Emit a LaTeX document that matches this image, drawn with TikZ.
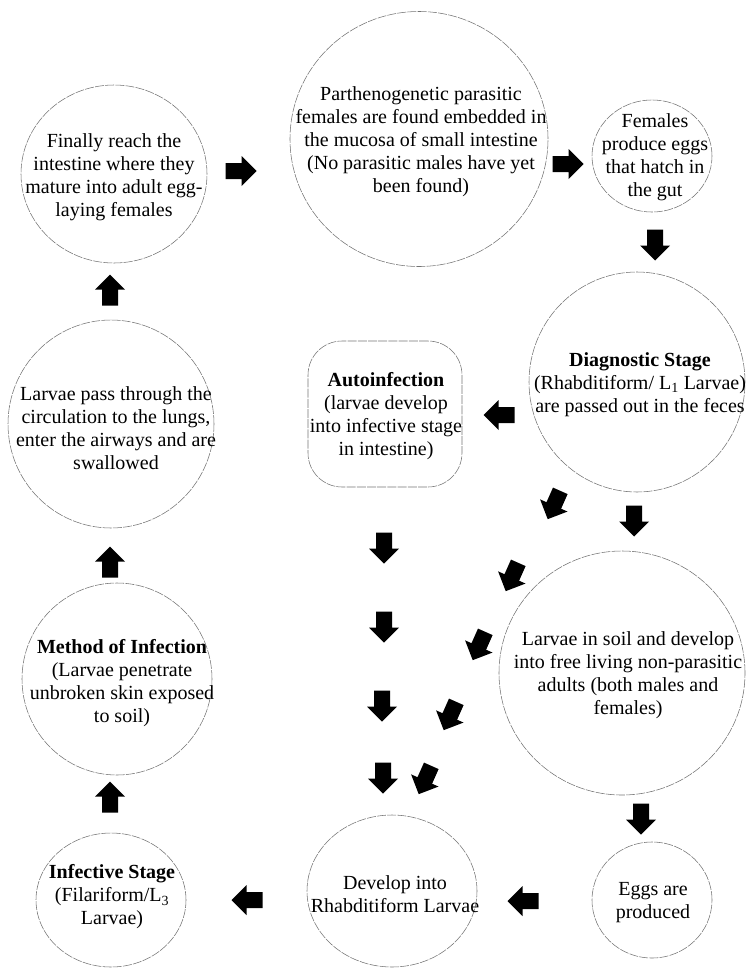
\documentclass[tikz,border=0pt]{standalone}
\usepackage{fontspec}
\setmainfont{Liberation Serif}
\usetikzlibrary{shapes.geometric}
\begin{document}
\begin{tikzpicture}[x=1pt,y=-1pt,
 oval/.style={ellipse, draw=black!55, line width=0.55pt, dash pattern=on 9pt off 1.2pt, inner sep=0pt},
 roundbox/.style={rectangle, rounded corners=34pt, draw=black!55, line width=0.55pt, dash pattern=on 9pt off 1.2pt, inner sep=0pt},
 txt/.style={align=center, font=\fontsize{20}{23}\selectfont, inner sep=0pt},
 barrow/.pic={\fill[black] (-15.5,-8) -- (0.5,-8) -- (0.5,-15) -- (15.5,0) -- (0.5,15) -- (0.5,8) -- (-15.5,8) -- cycle;}
]
\useasboundingbox (0,0) rectangle (745,969);

% outlines
\node[oval, minimum width=186pt, minimum height=178pt] (finally) at (114,174) {};
\node[oval, minimum width=258pt, minimum height=255pt] (parth) at (419,139) {};
\node[oval, minimum width=120pt, minimum height=112pt] (females) at (652,156) {};
\node[oval, minimum width=216pt, minimum height=220pt] (diag) at (637,382) {};
\node[roundbox, minimum width=154pt, minimum height=146pt] (auto) at (385,414) {};
\node[oval, minimum width=206pt, minimum height=208pt] (lungs) at (111,424) {};
\node[oval, minimum width=190pt, minimum height=192pt] (method) at (117,679) {};
\node[oval, minimum width=150pt, minimum height=134pt] (infective) at (111,900) {};
\node[oval, minimum width=246pt, minimum height=244pt] (soil) at (622,673) {};
\node[oval, minimum width=170pt, minimum height=152pt] (develop) at (392,891) {};
\node[oval, minimum width=120pt, minimum height=116pt] (eggs) at (652,900) {};

% texts
\node[txt] (tfinally) at (114,177) {Finally reach the\\intestine where they\\mature into adult egg-\\laying females};
\node[txt] (tparth) at (421,142) {Parthenogenetic parasitic\\females are found embedded in\\the mucosa of small intestine\\(No parasitic males have yet\\been found)};
\node[txt] (tfemales) at (655,157) {Females\\produce eggs\\that hatch in\\the gut};
\node[txt] (tdiag) at (640,385) {\textbf{Diagnostic Stage}\\(Rhabditiform/ L\textsubscript{1} Larvae)\\are passed out in the feces};
\node[txt] (tauto) at (386,416) {\textbf{Autoinfection}\\(larvae develop\\into infective stage\\in intestine)};
\node[txt] (tlungs) at (116,428) {Larvae pass through the\\circulation to the lungs,\\enter the airways and are\\swallowed};
\node[txt] (tmethod) at (122,683) {\textbf{Method of Infection}\\(Larvae penetrate\\unbroken skin exposed\\to soil)};
\node[txt] (tinfective) at (112,897) {\textbf{Infective Stage}\\(Filariform/L\textsubscript{3}\\Larvae)};
\node[txt] (tsoil) at (628,675) {Larvae in soil and develop\\into free living non-parasitic\\adults (both males and\\females)};
\node[txt] (tdevelop) at (395,894) {Develop into\\Rhabditiform Larvae};
\node[txt] (teggs) at (653,903) {Eggs are\\produced};

% block arrows
\pic at (241,171) {barrow};
\pic at (568,164) {barrow};
\pic[rotate=-90] at (655,245) {barrow};
\pic[rotate=90] at (110,290) {barrow};
\pic[rotate=180] at (499,415) {barrow};
\pic[rotate=246] at (554,505) {barrow};
\pic[rotate=-90] at (634,521) {barrow};
\pic[rotate=-90] at (384,548) {barrow};
\pic[rotate=-90] at (384,627) {barrow};
\pic[rotate=-90] at (382,706) {barrow};
\pic[rotate=-90] at (383,778) {barrow};
\pic[rotate=246] at (512,577) {barrow};
\pic[rotate=246] at (479,646) {barrow};
\pic[rotate=246] at (450,716) {barrow};
\pic[rotate=246] at (425,780) {barrow};
\pic[rotate=90] at (110,562) {barrow};
\pic[rotate=90] at (110,797) {barrow};
\pic[rotate=-90] at (641,819) {barrow};
\pic[rotate=180] at (523,901) {barrow};
\pic[rotate=180] at (247,900) {barrow};
\end{tikzpicture}
\end{document}
